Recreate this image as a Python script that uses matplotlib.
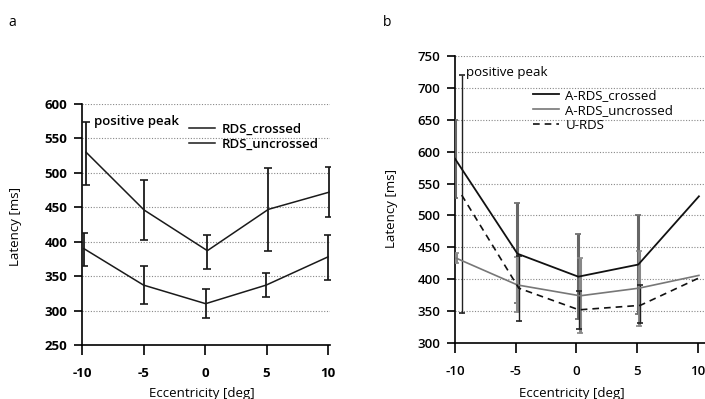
import matplotlib
matplotlib.use("Agg")
import matplotlib.pyplot as plt
import numpy as np
from matplotlib.lines import Line2D

plt.rcParams['font.family'] = ['Open Sans', 'DejaVu Sans']
plt.rcParams['axes.unicode_minus'] = False

# ---------------- data: panel a ----------------
ecc_ticks = [-10, -5, 0, 5, 10]
a_yticks = [250, 300, 350, 400, 450, 500, 550, 600]

a_cross_x = [-9.67, -4.95, 0.19, 5.15, 10.1]
a_cross_y = [530, 446, 387, 447, 472]
a_cross_lo = [483, 402, 361, 386, 436]
a_cross_hi = [574, 489, 410, 507, 509]

a_uncr_x = [-9.85, -5.0, 0.05, 4.97, 10.0]
a_uncr_y = [390, 337, 310, 337, 378]
a_uncr_lo = [365, 310, 289, 319, 345]
a_uncr_hi = [412, 365, 331, 354, 410]

# ---------------- data: panel b ----------------
b_yticks = [300, 350, 400, 450, 500, 550, 600, 650, 700, 750]

b_cross_x = [-10.0, -4.86, 0.15, 5.09, 10.08]
b_cross_y = [589, 440, 404, 423, 530]
b_cross_lo = [527, 363, 337, 346, np.nan]
b_cross_hi = [650, 519, 471, 500, np.nan]

b_uncr_x = [-9.9, -4.86, 0.3, 5.15, 10.08]
b_uncr_y = [433, 391, 374, 386, 406]
b_uncr_lo = [425, 348, 316, 327, np.nan]
b_uncr_hi = [441, 435, 433, 445, np.nan]

b_urds_x = [-9.45, -4.75, 0.2, 5.25, 10.08]
b_urds_y = [532, 386, 352, 359, 402]
b_urds_lo = [347, 335, 322, 332, np.nan]
b_urds_hi = [720, 437, 382, 391, np.nan]

fig = plt.figure(figsize=(7.05, 3.99), dpi=100)

def style_axes(ax, yticks, ylim, xlim, weight):
    ax.set_xlim(*xlim)
    ax.set_ylim(*ylim)
    ax.set_xticks(ecc_ticks)
    ax.set_yticks(yticks)
    for s in ['top', 'right']:
        ax.spines[s].set_visible(False)
    for s in ['left', 'bottom']:
        ax.spines[s].set_linewidth(1.2)
        ax.spines[s].set_color('black')
    ax.tick_params(axis='both', direction='out', width=1.2, labelsize=9.5)
    ax.tick_params(axis='x', length=7, pad=8.5)
    ax.tick_params(axis='y', length=6, pad=4.5)
    for lab in ax.get_xticklabels() + ax.get_yticklabels():
        lab.set_fontweight(weight)
    for yv in yticks[1:]:
        ax.axhline(yv, color='#888888', lw=0.8, ls=(0, (1, 1.5)), zorder=0)
    ax.patch.set_alpha(0)

def eb(ax, x, y, lo, hi, color, lw, capsize):
    y = np.array(y, float)
    lo = np.array(lo, float)
    hi = np.array(hi, float)
    m = ~np.isnan(lo)
    ax.errorbar(np.array(x)[m], y[m], yerr=[y[m] - lo[m], hi[m] - y[m]],
                fmt='none', ecolor=color, elinewidth=lw, capsize=capsize,
                capthick=1.2, zorder=3)

# ---------------- panel a ----------------
ax1 = fig.add_axes([82/705, 1-345/399, (330-82)/705, (345-104)/399])
style_axes(ax1, a_yticks, (250, 600), (-10, 10.16), 'bold')
ax1.plot(a_cross_x, a_cross_y, color='#1a1a1a', lw=1.1)
ax1.plot(a_uncr_x, a_uncr_y, color='#1a1a1a', lw=1.1)
eb(ax1, a_cross_x, a_cross_y, a_cross_lo, a_cross_hi, '#1a1a1a', 1.3, 3)
eb(ax1, a_uncr_x, a_uncr_y, a_uncr_lo, a_uncr_hi, '#1a1a1a', 1.3, 3)
ax1.text(-9.05, 575, 'positive peak', fontsize=9.5, fontweight='semibold',
         va='center', ha='left')
h1 = [Line2D([], [], color='#1a1a1a', lw=1.1),
      Line2D([], [], color='#1a1a1a', lw=1.1)]
fig.legend(h1, ['RDS_crossed', 'RDS_uncrossed'], loc='upper left',
           bbox_to_anchor=(189/705, 1-123/399), frameon=False,
           prop={'size': 9.5, 'weight': 'semibold'},
           handlelength=2.0, handletextpad=0.45, labelspacing=0.15,
           borderaxespad=0, borderpad=0)
fig.text(16/705, 1-226/399, 'Latency [ms]', rotation=90, ha='center',
         va='center', fontsize=9.5)
fig.text(202/705, 1-393/399, 'Eccentricity [deg]', ha='center',
         va='center', fontsize=9.5)
fig.text(12/705, 1-22/399, 'a', ha='center', va='center', fontsize=10)

# ---------------- panel b ----------------
ax2 = fig.add_axes([455/705, 1-343/399, (705-455)/705, (343-56)/399])
style_axes(ax2, b_yticks, (300, 750), (-10, 10.58), 'semibold')
ax2.plot(b_cross_x, b_cross_y, color='#111111', lw=1.3, zorder=4)
ax2.plot(b_uncr_x, b_uncr_y, color='#777777', lw=1.2, zorder=4)
ax2.plot(b_urds_x, b_urds_y, color='#111111', lw=1.2, ls=(0, (4, 3)), zorder=4)
eb(ax2, b_cross_x, b_cross_y, b_cross_lo, b_cross_hi, '#666666', 2.2, 2.5)
eb(ax2, b_uncr_x, b_uncr_y, b_uncr_lo, b_uncr_hi, '#888888', 2.2, 2.5)
eb(ax2, b_urds_x, b_urds_y, b_urds_lo, b_urds_hi, '#222222', 1.0, 2.5)
ax2.text(-9.1, 724, 'positive peak', fontsize=9.5, fontweight='normal',
         va='center', ha='left')
h2 = [Line2D([], [], color='#111111', lw=1.3),
      Line2D([], [], color='#777777', lw=1.2),
      Line2D([], [], color='#111111', lw=1.2, ls=(0, (4, 3)))]
fig.legend(h2, ['A-RDS_crossed', 'A-RDS_uncrossed', 'U-RDS'], loc='upper left',
           bbox_to_anchor=(533/705, 1-89/399), frameon=False, fontsize=9.5,
           handlelength=2.0, handletextpad=0.45, labelspacing=0.15,
           borderaxespad=0, borderpad=0)
fig.text(391/705, 1-208/399, 'Latency [ms]', rotation=90, ha='center',
         va='center', fontsize=9.5)
fig.text(572/705, 1-393/399, 'Eccentricity [deg]', ha='center',
         va='center', fontsize=9.5)
fig.text(387/705, 1-22/399, 'b', ha='center', va='center', fontsize=10)

fig.savefig('out.png', dpi=100)
